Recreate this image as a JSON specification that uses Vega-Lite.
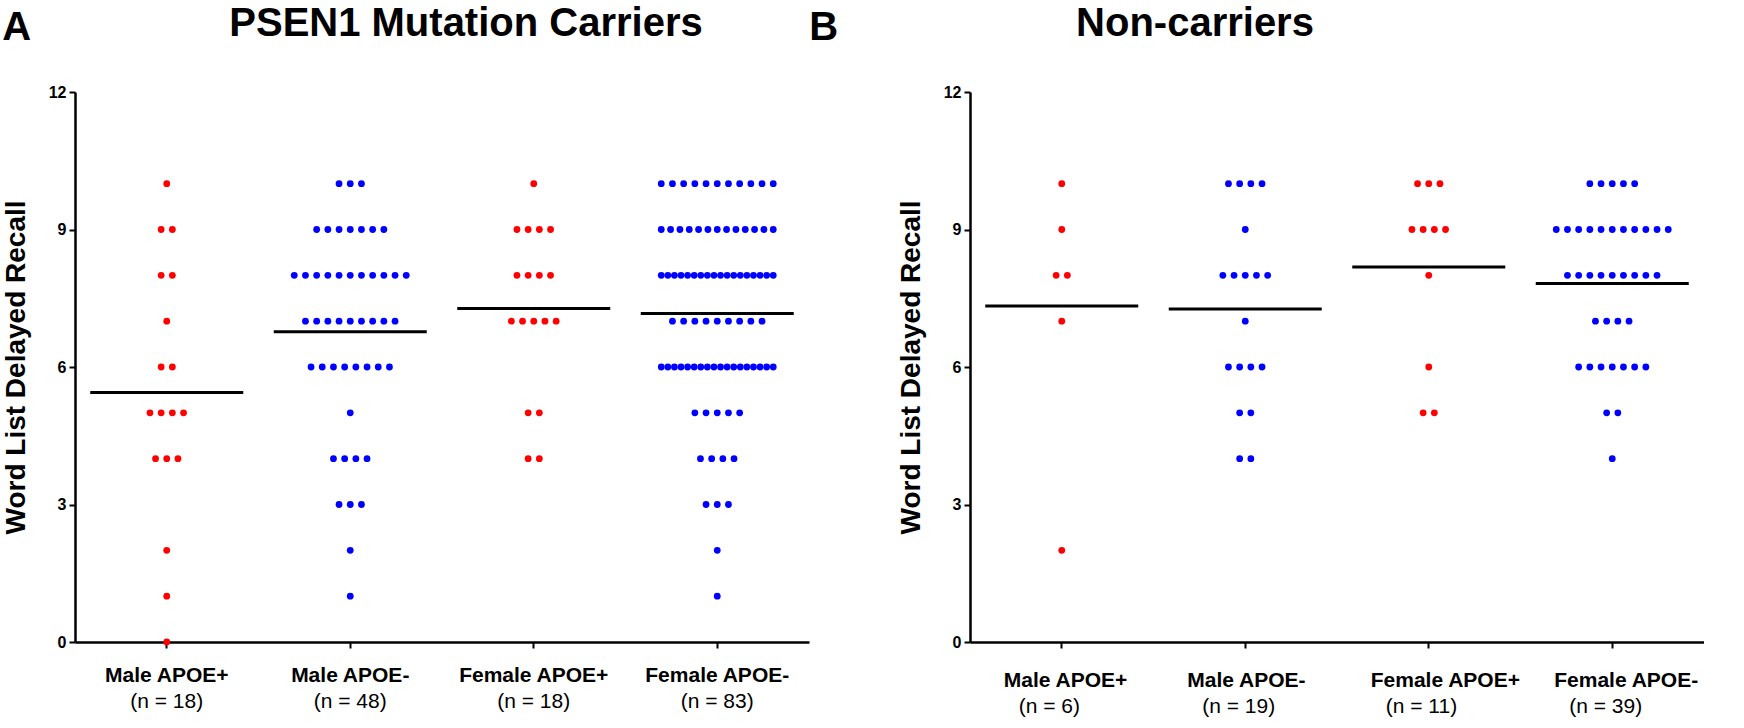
{
  "$schema": "https://vega.github.io/schema/vega-lite/v6.json",
  "padding": {"left": 2, "top": 4, "right": 0, "bottom": 0},
  "datasets": {
    "scores": [
      {"panel":"A","group":"Male APOE+","score":10},
      {"panel":"A","group":"Male APOE+","score":9},{"panel":"A","group":"Male APOE+","score":9},
      {"panel":"A","group":"Male APOE+","score":8},{"panel":"A","group":"Male APOE+","score":8},
      {"panel":"A","group":"Male APOE+","score":7},
      {"panel":"A","group":"Male APOE+","score":6},{"panel":"A","group":"Male APOE+","score":6},
      {"panel":"A","group":"Male APOE+","score":5},{"panel":"A","group":"Male APOE+","score":5},{"panel":"A","group":"Male APOE+","score":5},{"panel":"A","group":"Male APOE+","score":5},
      {"panel":"A","group":"Male APOE+","score":4},{"panel":"A","group":"Male APOE+","score":4},{"panel":"A","group":"Male APOE+","score":4},
      {"panel":"A","group":"Male APOE+","score":2},{"panel":"A","group":"Male APOE+","score":1},{"panel":"A","group":"Male APOE+","score":0},

      {"panel":"A","group":"Male APOE-","score":10},{"panel":"A","group":"Male APOE-","score":10},{"panel":"A","group":"Male APOE-","score":10},
      {"panel":"A","group":"Male APOE-","score":9},{"panel":"A","group":"Male APOE-","score":9},{"panel":"A","group":"Male APOE-","score":9},{"panel":"A","group":"Male APOE-","score":9},{"panel":"A","group":"Male APOE-","score":9},{"panel":"A","group":"Male APOE-","score":9},{"panel":"A","group":"Male APOE-","score":9},
      {"panel":"A","group":"Male APOE-","score":8},{"panel":"A","group":"Male APOE-","score":8},{"panel":"A","group":"Male APOE-","score":8},{"panel":"A","group":"Male APOE-","score":8},{"panel":"A","group":"Male APOE-","score":8},{"panel":"A","group":"Male APOE-","score":8},{"panel":"A","group":"Male APOE-","score":8},{"panel":"A","group":"Male APOE-","score":8},{"panel":"A","group":"Male APOE-","score":8},{"panel":"A","group":"Male APOE-","score":8},{"panel":"A","group":"Male APOE-","score":8},
      {"panel":"A","group":"Male APOE-","score":7},{"panel":"A","group":"Male APOE-","score":7},{"panel":"A","group":"Male APOE-","score":7},{"panel":"A","group":"Male APOE-","score":7},{"panel":"A","group":"Male APOE-","score":7},{"panel":"A","group":"Male APOE-","score":7},{"panel":"A","group":"Male APOE-","score":7},{"panel":"A","group":"Male APOE-","score":7},{"panel":"A","group":"Male APOE-","score":7},
      {"panel":"A","group":"Male APOE-","score":6},{"panel":"A","group":"Male APOE-","score":6},{"panel":"A","group":"Male APOE-","score":6},{"panel":"A","group":"Male APOE-","score":6},{"panel":"A","group":"Male APOE-","score":6},{"panel":"A","group":"Male APOE-","score":6},{"panel":"A","group":"Male APOE-","score":6},{"panel":"A","group":"Male APOE-","score":6},
      {"panel":"A","group":"Male APOE-","score":5},
      {"panel":"A","group":"Male APOE-","score":4},{"panel":"A","group":"Male APOE-","score":4},{"panel":"A","group":"Male APOE-","score":4},{"panel":"A","group":"Male APOE-","score":4},
      {"panel":"A","group":"Male APOE-","score":3},{"panel":"A","group":"Male APOE-","score":3},{"panel":"A","group":"Male APOE-","score":3},
      {"panel":"A","group":"Male APOE-","score":2},{"panel":"A","group":"Male APOE-","score":1},

      {"panel":"A","group":"Female APOE+","score":10},
      {"panel":"A","group":"Female APOE+","score":9},{"panel":"A","group":"Female APOE+","score":9},{"panel":"A","group":"Female APOE+","score":9},{"panel":"A","group":"Female APOE+","score":9},
      {"panel":"A","group":"Female APOE+","score":8},{"panel":"A","group":"Female APOE+","score":8},{"panel":"A","group":"Female APOE+","score":8},{"panel":"A","group":"Female APOE+","score":8},
      {"panel":"A","group":"Female APOE+","score":7},{"panel":"A","group":"Female APOE+","score":7},{"panel":"A","group":"Female APOE+","score":7},{"panel":"A","group":"Female APOE+","score":7},{"panel":"A","group":"Female APOE+","score":7},
      {"panel":"A","group":"Female APOE+","score":5},{"panel":"A","group":"Female APOE+","score":5},
      {"panel":"A","group":"Female APOE+","score":4},{"panel":"A","group":"Female APOE+","score":4},

      {"panel":"A","group":"Female APOE-","score":10},{"panel":"A","group":"Female APOE-","score":10},{"panel":"A","group":"Female APOE-","score":10},{"panel":"A","group":"Female APOE-","score":10},{"panel":"A","group":"Female APOE-","score":10},{"panel":"A","group":"Female APOE-","score":10},{"panel":"A","group":"Female APOE-","score":10},{"panel":"A","group":"Female APOE-","score":10},{"panel":"A","group":"Female APOE-","score":10},{"panel":"A","group":"Female APOE-","score":10},{"panel":"A","group":"Female APOE-","score":10},
      {"panel":"A","group":"Female APOE-","score":9},{"panel":"A","group":"Female APOE-","score":9},{"panel":"A","group":"Female APOE-","score":9},{"panel":"A","group":"Female APOE-","score":9},{"panel":"A","group":"Female APOE-","score":9},{"panel":"A","group":"Female APOE-","score":9},{"panel":"A","group":"Female APOE-","score":9},{"panel":"A","group":"Female APOE-","score":9},{"panel":"A","group":"Female APOE-","score":9},{"panel":"A","group":"Female APOE-","score":9},{"panel":"A","group":"Female APOE-","score":9},{"panel":"A","group":"Female APOE-","score":9},{"panel":"A","group":"Female APOE-","score":9},
      {"panel":"A","group":"Female APOE-","score":8},{"panel":"A","group":"Female APOE-","score":8},{"panel":"A","group":"Female APOE-","score":8},{"panel":"A","group":"Female APOE-","score":8},{"panel":"A","group":"Female APOE-","score":8},{"panel":"A","group":"Female APOE-","score":8},{"panel":"A","group":"Female APOE-","score":8},{"panel":"A","group":"Female APOE-","score":8},{"panel":"A","group":"Female APOE-","score":8},{"panel":"A","group":"Female APOE-","score":8},{"panel":"A","group":"Female APOE-","score":8},{"panel":"A","group":"Female APOE-","score":8},{"panel":"A","group":"Female APOE-","score":8},{"panel":"A","group":"Female APOE-","score":8},{"panel":"A","group":"Female APOE-","score":8},{"panel":"A","group":"Female APOE-","score":8},{"panel":"A","group":"Female APOE-","score":8},{"panel":"A","group":"Female APOE-","score":8},
      {"panel":"A","group":"Female APOE-","score":7},{"panel":"A","group":"Female APOE-","score":7},{"panel":"A","group":"Female APOE-","score":7},{"panel":"A","group":"Female APOE-","score":7},{"panel":"A","group":"Female APOE-","score":7},{"panel":"A","group":"Female APOE-","score":7},{"panel":"A","group":"Female APOE-","score":7},{"panel":"A","group":"Female APOE-","score":7},{"panel":"A","group":"Female APOE-","score":7},
      {"panel":"A","group":"Female APOE-","score":6},{"panel":"A","group":"Female APOE-","score":6},{"panel":"A","group":"Female APOE-","score":6},{"panel":"A","group":"Female APOE-","score":6},{"panel":"A","group":"Female APOE-","score":6},{"panel":"A","group":"Female APOE-","score":6},{"panel":"A","group":"Female APOE-","score":6},{"panel":"A","group":"Female APOE-","score":6},{"panel":"A","group":"Female APOE-","score":6},{"panel":"A","group":"Female APOE-","score":6},{"panel":"A","group":"Female APOE-","score":6},{"panel":"A","group":"Female APOE-","score":6},{"panel":"A","group":"Female APOE-","score":6},{"panel":"A","group":"Female APOE-","score":6},{"panel":"A","group":"Female APOE-","score":6},{"panel":"A","group":"Female APOE-","score":6},{"panel":"A","group":"Female APOE-","score":6},{"panel":"A","group":"Female APOE-","score":6},
      {"panel":"A","group":"Female APOE-","score":5},{"panel":"A","group":"Female APOE-","score":5},{"panel":"A","group":"Female APOE-","score":5},{"panel":"A","group":"Female APOE-","score":5},{"panel":"A","group":"Female APOE-","score":5},
      {"panel":"A","group":"Female APOE-","score":4},{"panel":"A","group":"Female APOE-","score":4},{"panel":"A","group":"Female APOE-","score":4},{"panel":"A","group":"Female APOE-","score":4},
      {"panel":"A","group":"Female APOE-","score":3},{"panel":"A","group":"Female APOE-","score":3},{"panel":"A","group":"Female APOE-","score":3},
      {"panel":"A","group":"Female APOE-","score":2},{"panel":"A","group":"Female APOE-","score":1},

      {"panel":"B","group":"Male APOE+","score":10},{"panel":"B","group":"Male APOE+","score":9},{"panel":"B","group":"Male APOE+","score":8},{"panel":"B","group":"Male APOE+","score":8},{"panel":"B","group":"Male APOE+","score":7},{"panel":"B","group":"Male APOE+","score":2},

      {"panel":"B","group":"Male APOE-","score":10},{"panel":"B","group":"Male APOE-","score":10},{"panel":"B","group":"Male APOE-","score":10},{"panel":"B","group":"Male APOE-","score":10},
      {"panel":"B","group":"Male APOE-","score":9},
      {"panel":"B","group":"Male APOE-","score":8},{"panel":"B","group":"Male APOE-","score":8},{"panel":"B","group":"Male APOE-","score":8},{"panel":"B","group":"Male APOE-","score":8},{"panel":"B","group":"Male APOE-","score":8},
      {"panel":"B","group":"Male APOE-","score":7},
      {"panel":"B","group":"Male APOE-","score":6},{"panel":"B","group":"Male APOE-","score":6},{"panel":"B","group":"Male APOE-","score":6},{"panel":"B","group":"Male APOE-","score":6},
      {"panel":"B","group":"Male APOE-","score":5},{"panel":"B","group":"Male APOE-","score":5},
      {"panel":"B","group":"Male APOE-","score":4},{"panel":"B","group":"Male APOE-","score":4},

      {"panel":"B","group":"Female APOE+","score":10},{"panel":"B","group":"Female APOE+","score":10},{"panel":"B","group":"Female APOE+","score":10},
      {"panel":"B","group":"Female APOE+","score":9},{"panel":"B","group":"Female APOE+","score":9},{"panel":"B","group":"Female APOE+","score":9},{"panel":"B","group":"Female APOE+","score":9},
      {"panel":"B","group":"Female APOE+","score":8},{"panel":"B","group":"Female APOE+","score":6},
      {"panel":"B","group":"Female APOE+","score":5},{"panel":"B","group":"Female APOE+","score":5},

      {"panel":"B","group":"Female APOE-","score":10},{"panel":"B","group":"Female APOE-","score":10},{"panel":"B","group":"Female APOE-","score":10},{"panel":"B","group":"Female APOE-","score":10},{"panel":"B","group":"Female APOE-","score":10},
      {"panel":"B","group":"Female APOE-","score":9},{"panel":"B","group":"Female APOE-","score":9},{"panel":"B","group":"Female APOE-","score":9},{"panel":"B","group":"Female APOE-","score":9},{"panel":"B","group":"Female APOE-","score":9},{"panel":"B","group":"Female APOE-","score":9},{"panel":"B","group":"Female APOE-","score":9},{"panel":"B","group":"Female APOE-","score":9},{"panel":"B","group":"Female APOE-","score":9},{"panel":"B","group":"Female APOE-","score":9},{"panel":"B","group":"Female APOE-","score":9},
      {"panel":"B","group":"Female APOE-","score":8},{"panel":"B","group":"Female APOE-","score":8},{"panel":"B","group":"Female APOE-","score":8},{"panel":"B","group":"Female APOE-","score":8},{"panel":"B","group":"Female APOE-","score":8},{"panel":"B","group":"Female APOE-","score":8},{"panel":"B","group":"Female APOE-","score":8},{"panel":"B","group":"Female APOE-","score":8},{"panel":"B","group":"Female APOE-","score":8},
      {"panel":"B","group":"Female APOE-","score":7},{"panel":"B","group":"Female APOE-","score":7},{"panel":"B","group":"Female APOE-","score":7},{"panel":"B","group":"Female APOE-","score":7},
      {"panel":"B","group":"Female APOE-","score":6},{"panel":"B","group":"Female APOE-","score":6},{"panel":"B","group":"Female APOE-","score":6},{"panel":"B","group":"Female APOE-","score":6},{"panel":"B","group":"Female APOE-","score":6},{"panel":"B","group":"Female APOE-","score":6},{"panel":"B","group":"Female APOE-","score":6},
      {"panel":"B","group":"Female APOE-","score":5},{"panel":"B","group":"Female APOE-","score":5},
      {"panel":"B","group":"Female APOE-","score":4}
    ]
  },
  "data": {"name": "scores"},
  "spacing": 0,
  "hconcat": [
    {
      "title": {"text": "A", "anchor": "start", "frame": "bounds", "fontSize": 40, "fontWeight": "bold", "offset": -44},
      "vconcat": [
        {
          "width": 734,
          "height": 550,
          "title": {"text": "PSEN1 Mutation Carriers", "fontSize": 40, "fontWeight": "bold", "anchor": "middle", "dx": 24, "offset": 40},
          "transform": [{"filter": "datum.panel === 'A'"}],
          "encoding": {
            "x": {
              "field": "group", "type": "nominal",
              "sort": ["Male APOE+", "Male APOE-", "Female APOE+", "Female APOE-"],
              "scale": {"type": "band", "paddingInner": 0, "paddingOuter": 0},
              "axis": {"title": null, "labelAngle": 0, "labelFontSize": 21, "labelFontWeight": "bold", "labelPadding": 16, "tickSize": 6, "tickWidth": 2, "domainWidth": 2.5}
            }
          },
          "layer": [
            {
              "transform": [
                {"window": [{"op": "row_number", "as": "rank"}, {"op": "count", "as": "n"}], "groupby": ["group", "score"], "frame": [null, null]},
                {"calculate": "(datum.rank - (datum.n + 1) / 2) * min(11.2, 112 / max(1, datum.n - 1))", "as": "dx"}
              ],
              "mark": {"type": "circle", "size": 46, "opacity": 1},
              "encoding": {
                "y": {
                  "field": "score", "type": "quantitative",
                  "scale": {"domain": [0, 12], "nice": false},
                  "axis": {"title": "Word List Delayed Recall", "titleFontSize": 28, "titleFontWeight": "bold", "titlePadding": 18, "values": [0, 3, 6, 9, 12], "labelFontSize": 16, "labelFontWeight": "bold", "labelPadding": 3, "tickSize": 6, "tickWidth": 2, "domainWidth": 2.5}
                },
                "xOffset": {"field": "dx", "type": "quantitative", "scale": {"domain": [-91.75, 91.75], "range": [0, 183.5]}},
                "color": {"field": "group", "type": "nominal", "scale": {"domain": ["Male APOE+", "Male APOE-", "Female APOE+", "Female APOE-"], "range": ["#ff0000", "#0000ff", "#ff0000", "#0000ff"]}, "legend": null}
              }
            },
            {
              "mark": {"type": "tick", "color": "#000000", "thickness": 3, "size": 153},
              "encoding": {"y": {"aggregate": "mean", "field": "score", "type": "quantitative"}}
            },
            {
              "transform": [
                {"aggregate": [{"op": "count", "as": "n"}], "groupby": ["group"]},
                {"calculate": "'(n = ' + datum.n + ')'", "as": "label"}
              ],
              "mark": {"type": "text", "fontSize": 21, "dy": 60, "baseline": "middle", "color": "#000000"},
              "encoding": {"y": {"datum": 0}, "text": {"field": "label"}}
            }
          ]
        }
      ]
    },
    {
      "title": {"text": "B", "anchor": "start", "frame": "bounds", "fontSize": 40, "fontWeight": "bold", "offset": -44, "dx": -88},
      "vconcat": [
        {
          "width": 734,
          "height": 550,
          "title": {"text": "Non-carriers", "fontSize": 40, "fontWeight": "bold", "anchor": "middle", "dx": -142, "offset": 40},
          "transform": [{"filter": "datum.panel === 'B'"}],
          "encoding": {
            "x": {
              "field": "group", "type": "nominal",
              "sort": ["Male APOE+", "Male APOE-", "Female APOE+", "Female APOE-"],
              "scale": {"type": "band", "paddingInner": 0, "paddingOuter": 0},
              "axis": {"title": null, "labelAngle": 0, "labelFontSize": 21, "labelFontWeight": "bold", "labelPadding": 21, "labelAlign": "left", "labelOffset": -58, "tickSize": 6, "tickWidth": 2, "domainWidth": 2.5}
            }
          },
          "layer": [
            {
              "transform": [
                {"window": [{"op": "row_number", "as": "rank"}, {"op": "count", "as": "n"}], "groupby": ["group", "score"], "frame": [null, null]},
                {"calculate": "(datum.rank - (datum.n + 1) / 2) * min(11.2, 112 / max(1, datum.n - 1))", "as": "dx"}
              ],
              "mark": {"type": "circle", "size": 46, "opacity": 1},
              "encoding": {
                "y": {
                  "field": "score", "type": "quantitative",
                  "scale": {"domain": [0, 12], "nice": false},
                  "axis": {"title": "Word List Delayed Recall", "titleFontSize": 28, "titleFontWeight": "bold", "titlePadding": 18, "values": [0, 3, 6, 9, 12], "labelFontSize": 16, "labelFontWeight": "bold", "labelPadding": 3, "tickSize": 6, "tickWidth": 2, "domainWidth": 2.5}
                },
                "xOffset": {"field": "dx", "type": "quantitative", "scale": {"domain": [-91.75, 91.75], "range": [0, 183.5]}},
                "color": {"field": "group", "type": "nominal", "scale": {"domain": ["Male APOE+", "Male APOE-", "Female APOE+", "Female APOE-"], "range": ["#ff0000", "#0000ff", "#ff0000", "#0000ff"]}, "legend": null}
              }
            },
            {
              "mark": {"type": "tick", "color": "#000000", "thickness": 3, "size": 153},
              "encoding": {"y": {"aggregate": "mean", "field": "score", "type": "quantitative"}}
            },
            {
              "transform": [
                {"aggregate": [{"op": "count", "as": "n"}], "groupby": ["group"]},
                {"calculate": "'(n = ' + datum.n + ')'", "as": "label"}
              ],
              "mark": {"type": "text", "fontSize": 21, "dy": 65, "dx": -43, "align": "left", "baseline": "middle", "color": "#000000"},
              "encoding": {"y": {"datum": 0}, "text": {"field": "label"}}
            }
          ]
        }
      ]
    }
  ],
  "config": {
    "font": "Liberation Sans",
    "view": {"stroke": null},
    "axis": {"domainColor": "#000000", "tickColor": "#000000", "labelColor": "#000000", "titleColor": "#000000", "grid": false},
    "title": {"color": "#000000"}
  }
}
